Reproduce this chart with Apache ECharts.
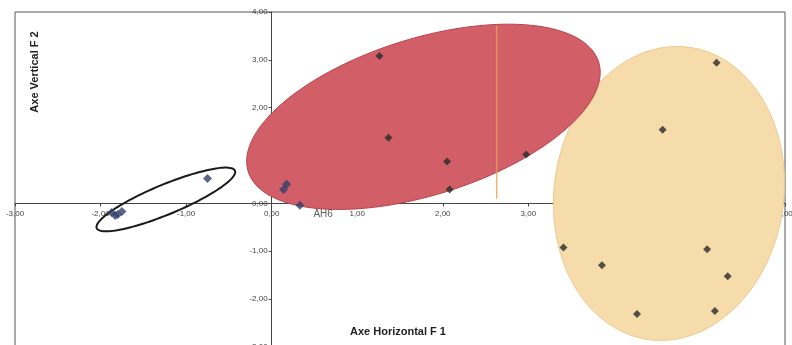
<!DOCTYPE html>
<html>
<head>
<meta charset="utf-8">
<script src="https://cdn.jsdelivr.net/npm/echarts@6/dist/echarts.min.js"></script>
<style>
  html, body { margin: 0; padding: 0; background: #fff; }
  #chart { width: 792px; height: 345px; }
</style>
</head>
<body>
<div id="chart"></div>
<script>
// axis range / ticks
const xTicks = [-3, -2, -1, 0, 1, 2, 3, 4, 5, 6];
const yTicks = [-3, -2, -1, 0, 1, 2, 3, 4];

// points
const groupBlack = [[-1.87, -0.19], [-1.80, -0.23], [-1.75, -0.17], [-1.83, -0.25], [-0.75, 0.52]];
const groupRed = [[1.26, 3.08], [1.365, 1.375], [2.05, 0.875], [2.08, 0.29], [2.975, 1.02]];
const groupRedNavy = [[0.175, 0.40], [0.14, 0.29]];
const pointAH6 = [0.33, -0.04];
const groupYellow = [[5.20, 2.94], [4.57, 1.54], [3.41, -0.92], [3.86, -1.29], [4.27, -2.31], [5.09, -0.96], [5.33, -1.52], [5.18, -2.25]];

// ellipses: centre x, centre y, half-axis u (x,y), half-axis v (x,y) in data units
const ellipseBlack = [-1.237, 0.083, 0.808, 0.600, -0.067, 0.288];
const ellipseRed = [1.774, 1.81, 2.048, 1.146, -0.274, 1.560];
const ellipseYellow = [4.644, 0.208, 1.329, -0.333, 0.240, 3.053];

// scan streak inside the red ellipse
const streakX = 2.63;
const streakY = [0.1, 3.72];

const fmt = v => v.toFixed(2).replace('.', ',');

// plot box
const G = { left: 15, top: 12, width: 770, height: 335 };
const xMin = xTicks[0], xMax = xTicks[xTicks.length - 1];
const yMin = yTicks[0], yMax = yTicks[yTicks.length - 1];
// move the axes onto the zero lines (labels included)
const xAxisOffset = -G.height * (0 - yMin) / (yMax - yMin);
const yAxisOffset = -G.width * (0 - xMin) / (xMax - xMin);

function ellipseRenderer(style) {
  return function (params, api) {
    const cx = api.value(0), cy = api.value(1);
    const ux = api.value(2), uy = api.value(3);
    const vx = api.value(4), vy = api.value(5);
    const pts = [];
    for (let i = 0; i < 120; i++) {
      const t = i / 120 * Math.PI * 2;
      pts.push(api.coord([
        cx + ux * Math.cos(t) + vx * Math.sin(t),
        cy + uy * Math.cos(t) + vy * Math.sin(t)
      ]));
    }
    return { type: 'polygon', shape: { points: pts }, style: style };
  };
}

const myChart = echarts.init(document.getElementById('chart'));
const option = {
  animation: false,
  textStyle: { fontFamily: 'Liberation Sans, Arial, sans-serif' },
  grid: Object.assign({ show: true, borderColor: '#555', borderWidth: 1, outerBoundsMode: 'none', containLabel: false }, G),
  xAxis: {
    type: 'value',
    min: xMin, max: xMax, interval: 1,
    offset: xAxisOffset,
    axisLine: { onZero: false, lineStyle: { color: '#444', width: 1 } },
    axisTick: { show: true, length: 3, lineStyle: { color: '#444' } },
    splitLine: { show: false },
    axisLabel: { formatter: fmt, fontSize: 8, color: '#444', margin: 6 }
  },
  yAxis: {
    type: 'value',
    min: yMin, max: yMax, interval: 1,
    offset: yAxisOffset,
    axisLine: { onZero: false, lineStyle: { color: '#444', width: 1 } },
    axisTick: { show: true, length: 3, lineStyle: { color: '#444' } },
    splitLine: { show: false },
    axisLabel: { formatter: fmt, fontSize: 8, color: '#444', margin: 4 }
  },
  graphic: [
    {
      type: 'text', x: 35, y: 72, rotation: Math.PI / 2,
      style: { text: 'Axe Vertical F 2', font: 'bold 11px Liberation Sans', fill: '#222', textAlign: 'center', textVerticalAlign: 'middle' }
    },
    {
      type: 'text', x: 398, y: 332,
      style: { text: 'Axe Horizontal F 1', font: 'bold 11px Liberation Sans', fill: '#222', textAlign: 'center', textVerticalAlign: 'middle' }
    }
  ],
  series: [
    {
      type: 'custom', z: 1,
      renderItem: ellipseRenderer({ fill: '#f6dcab', stroke: '#ecc98e', lineWidth: 1 }),
      data: [ellipseYellow]
    },
    {
      type: 'custom', z: 1,
      renderItem: ellipseRenderer({ fill: '#d25f68', stroke: '#b8424c', lineWidth: 1 }),
      data: [ellipseRed]
    },
    {
      type: 'custom', z: 2,
      renderItem: ellipseRenderer({ fill: 'none', stroke: '#1a1a1a', lineWidth: 2 }),
      data: [ellipseBlack]
    },
    {
      type: 'line', z: 2, symbol: 'none', silent: true,
      lineStyle: { color: '#e8a050', width: 1.5, opacity: 0.8 },
      data: [[streakX, streakY[0]], [streakX, streakY[1]]]
    },
    {
      type: 'scatter', z: 3, symbol: 'diamond', symbolSize: 8,
      itemStyle: { color: '#2a2a2a' },
      data: groupRed.concat(groupYellow)
    },
    {
      type: 'scatter', z: 3, symbol: 'diamond', symbolSize: 9,
      itemStyle: { color: '#33406b' },
      data: groupBlack.concat(groupRedNavy).concat([{
        value: pointAH6,
        label: { show: true, formatter: 'AH6', position: 'right', offset: [4, 9], fontSize: 10, color: '#333' }
      }])
    }
  ]
};
myChart.setOption(option);
window.addEventListener('resize', () => {
  myChart.resize();
});
</script>
</body>
</html>
